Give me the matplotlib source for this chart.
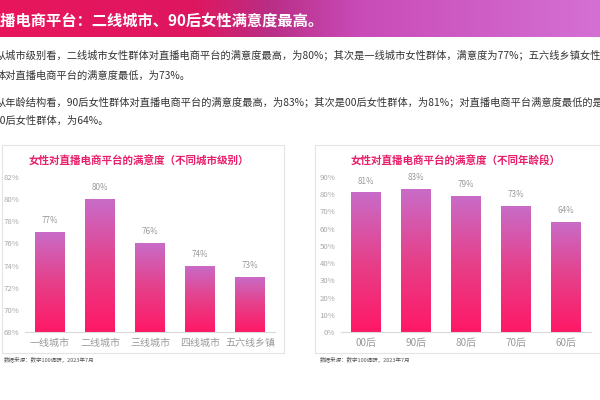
import numpy as np
import matplotlib
matplotlib.use('Agg')
import matplotlib.pyplot as plt
from matplotlib.colors import LinearSegmentedColormap
from matplotlib.patches import Rectangle

plt.rcParams['font.family'] = ['Noto Sans CJK SC', 'DejaVu Sans']

# ---- data ----
city_labels = ['一线城市', '二线城市', '三线城市', '四线城市', '五六线乡镇']
city_values = [77, 80, 76, 74, 73]
city_ticks = [68, 70, 72, 74, 76, 78, 80, 82]

age_labels = ['00后', '90后', '80后', '70后', '60后']
age_values = [81, 83, 79, 73, 64]
age_ticks = [0, 10, 20, 30, 40, 50, 60, 70, 80, 90]

header = '直播电商平台：二线城市、90后女性满意度最高。'
body = [
    '从城市级别看，二线城市女性群体对直播电商平台的满意度最高，为80%；其次是一线城市女性群体，满意度为77%；五六线乡镇女性群',
    '体对直播电商平台的满意度最低，为73%。',
    '从年龄结构看，90后女性群体对直播电商平台的满意度最高，为83%；其次是00后女性群体，为81%；对直播电商平台满意度最低的是',
    '60后女性群体，为64%。',
]
title_city = '女性对直播电商平台的满意度（不同城市级别）'
title_age = '女性对直播电商平台的满意度（不同年龄段）'
source = '数据来源：数字100调研，2023年7月'

W, H = 600, 400
PINK = '#e8206a'
GREY = '#9a9a9a'
bar_cmap = LinearSegmentedColormap.from_list('bar', ['#ff1866', '#e6408a', '#c86cc8'])
head_cmap = LinearSegmentedColormap.from_list(
    'head', [(0, '#e8165c'), (0.33, '#de1760'), (0.45, '#b92e86'),
             (0.6, '#c94bb8'), (1, '#d470d4')])


def fx(x):
    return x / W


def fy(y):
    return 1 - y / H


fig = plt.figure(figsize=(6, 4), dpi=100)
fig.patch.set_facecolor('white')

# header band
hax = fig.add_axes([0, fy(37), 1, 37 / H])
hax.imshow(np.linspace(0, 1, 256)[None, :], aspect='auto', cmap=head_cmap,
           extent=[0, 1, 0, 1])
hax.axis('off')
fig.text(fx(-15), fy(21), header, color='white', fontsize=11, fontweight='bold',
         va='center', ha='left')

# body text
for y, xoff, line in zip([55, 76, 102, 121], [-4, -4, -4, -6], body):
    fig.text(fx(xoff), fy(y), line, fontsize=7.35, color='#333333', va='center', ha='left')

# panel frames
for x0, x1 in [(2, 284), (315, 610)]:
    fig.patches.append(Rectangle((fx(x0), fy(353)), fx(x1 - x0), (353 - 145) / H,
                                 transform=fig.transFigure, fill=False,
                                 edgecolor='#e4e4e4', linewidth=0.8))


def draw_chart(left, right, top, bottom, labels, values, ticks, ymin, ymax, title, tx, srcx):
    ax = fig.add_axes([fx(left), fy(bottom), fx(right - left), (bottom - top) / H])
    xs = np.arange(len(labels))
    bars = ax.bar(xs, values, width=0.6, bottom=0, color='none', zorder=2)
    ax.set_xlim(-0.5, len(labels) - 0.5)
    ax.set_ylim(ymin, ymax)
    grad = np.linspace(0, 1, 256)[:, None]
    for b, v in zip(bars, values):
        x0 = b.get_x()
        im = ax.imshow(grad, aspect='auto', cmap=bar_cmap, origin='lower',
                       extent=[x0, x0 + b.get_width(), ymin, v], zorder=2)
        im.set_clip_path(b)
        ax.text(b.get_x() + b.get_width() / 2, v + (ymax - ymin) * 0.045, f'{v}%',
                ha='center', va='bottom', fontsize=5.8, color=GREY)
    ax.set_xticks(xs)
    ax.set_xticklabels(labels, fontsize=7.2, color=GREY)
    ax.set_yticks(ticks)
    ax.set_yticklabels([f'{t}%' for t in ticks], fontsize=5.6, color='#a8a8a8')
    ax.tick_params(length=0, pad=4)
    for s in ['top', 'right', 'left']:
        ax.spines[s].set_visible(False)
    ax.spines['bottom'].set_color('#d9d9d9')
    ax.spines['bottom'].set_linewidth(0.8)
    ax.patch.set_alpha(0)
    fig.text(fx(tx), fy(160), title, color=PINK, fontsize=7.6, fontweight='bold',
             ha='center', va='center')
    fig.text(fx(srcx), fy(359), source, color='#555555', fontsize=4, ha='left', va='center')


draw_chart(25, 275, 177, 332, city_labels, city_values, city_ticks, 68, 82,
           title_city, 139, 4)
draw_chart(341, 591, 177, 332, age_labels, age_values, age_ticks, 0, 90,
           title_age, 456, 320)

fig.savefig('out.png', dpi=100)
